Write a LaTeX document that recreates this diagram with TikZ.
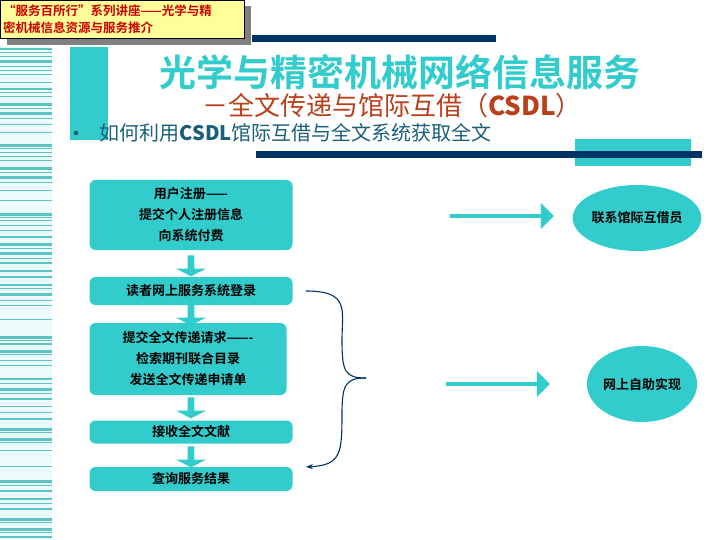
\documentclass[tikz,border=0pt]{standalone}
\usepackage{fontspec}
\newfontfamily\cjk{Noto Sans CJK SC}
\newfontfamily\cjkb{Noto Sans CJK SC Bold}
\usetikzlibrary{arrows.meta,shapes.arrows,shapes.geometric}
\definecolor{teal1}{HTML}{33CCCC}
\definecolor{stripe}{HTML}{5CC4C4}
\definecolor{navy}{HTML}{003366}
\definecolor{tblue}{HTML}{1A5F7A}
\definecolor{rbrown}{HTML}{B8401A}
\definecolor{ybox}{HTML}{FFFF99}
\tikzset{
 flow/.style={fill=teal1,rounded corners=6pt,minimum width=203pt,align=center,font=\cjkb\fontsize{13}{21}\selectfont,text=black},
 down/.style={single arrow,fill=teal1,draw=none,shape border rotate=270,minimum height=21pt,minimum width=30pt,single arrow head extend=4pt,single arrow tip angle=125,inner sep=1pt},
 right/.style={single arrow,fill=teal1,draw=none,minimum height=104pt,minimum width=26pt,single arrow head extend=7pt,inner sep=1pt},
 oval/.style={ellipse,fill=teal1,font=\cjkb\fontsize{13}{15}\selectfont,inner sep=0pt}
}
\begin{document}
\begin{tikzpicture}[x=1pt,y=-1pt]
\useasboundingbox (0,0) rectangle (720,540);
\fill[white] (0,0) rectangle (720,540);
% stripes
\fill[white!90!teal1] (0,46) rectangle (52,540);
\foreach \y/\t in {48/2,52/1,56/1.5,60/3,66/1.5,70/1,74/1,82/1,88/2,92/1,96/1.5,103/3,108/1,112/3,118/1,124/1,132/1,144/3,148/1,152/1.5,156/1,160/1.5,167/3,172/1,176/3,182/1,190/1,200/1,213/3,217/1,220/1.5,225/1,230/1.5,236/1.5,243/3,248/1,252/3,258/1,262/1.5,270/1.5,276/1.5,284/1.5,288/1,293/3,300/1,305/1,319/1,336/3,340/1,343/1.5,350/3,354/1,360/1,365/1,378/1.5,383/1,388/3,393/1,398/1.5,406/1,412/1,418/2,428/3,432/1,438/3,442/1,450/1,466/1,480/3,485/1,490/1.5,498/1.5,503/1,508/1.5,518/3,522/1,528/3,532/1,536/1.5}
  \fill[stripe] (0,\y) rectangle (52,\y+\t);
% title box
\fill[gray] (7,6) rectangle (251,45);
\node[draw=black,fill=ybox,minimum width=244pt,minimum height=38pt,anchor=north west,inner sep=2pt,align=left,text width=238pt,font=\cjkb\fontsize{12.5}{17}\selectfont,text=red!80!black] (tb) at (0,0) {“服务百所行”系列讲座——光学与精\\密机械信息资源与服务推介};
% decorations
\fill[navy] (252,35) rectangle (496,42);
\fill[teal1] (70,47) rectangle (108,140);
\fill[teal1] (575,139) rectangle (691,166);
\fill[navy] (256,151) rectangle (702,158);
% titles
\node[font=\cjkb\fontsize{37}{40}\selectfont,text=teal1] (title) at (400,72) {光学与精密机械网络信息服务};
\node[font=\cjk\fontsize{26}{28}\selectfont,text=rbrown] (sub) at (392,106) {－全文传递与馆际互借（\textbf{CSDL}）};
\node[font=\fontsize{12}{12}\selectfont,text=tblue] (bul) at (76,134) {$\bullet$};
\node[font=\cjk\fontsize{20}{22}\selectfont,text=tblue,anchor=west] (q) at (96,133) {如何利用\textbf{CSDL}馆际互借与全文系统获取全文};
% flow
\node[flow,minimum height=70pt] (b1) at (191,215) {用户注册——\\提交个人注册信息\\向系统付费};
\node[flow,minimum height=28pt] (b2) at (191,291) {读者网上服务系统登录};
\node[flow,minimum height=72pt,minimum width=197pt] (b3) at (188,359) {提交全文传递请求——-\\检索期刊联合目录\\发送全文传递申请单};
\node[flow,minimum height=23pt] (b4) at (191,432) {接收全文文献};
\node[flow,minimum height=24pt] (b5) at (191,479) {查询服务结果};
\node[down] (d1) at (191,265) {};
\node[down] (d2) at (191,314) {};
\node[down] (d3) at (191,407) {};
\node[down] (d4) at (191,456) {};
% brace
\coordinate (bs) at (306,291);
\coordinate (bm) at (366,378);
\coordinate (be) at (306,467);
\draw[navy,line width=1.1pt] (bs) .. controls (350,291) and (342,310) .. (342,340) .. controls (342,372) and (345,378) .. (bm);
\draw[navy,line width=1.1pt,-{Stealth[length=7pt]}] (bm) .. controls (345,378) and (342,385) .. (342,415) .. controls (342,455) and (340,465) .. (be);
% right arrows and ovals
\node[right] (r1) at (501,216) {};
\node[right] (r2) at (497,384) {};
\node[oval,minimum width=97pt,minimum height=66pt] (o1) at (637,218) {联系馆际互借员};
\node[oval,minimum width=95pt,minimum height=76pt] (o2) at (642,384) {网上自助实现};
\end{tikzpicture}
\end{document}
